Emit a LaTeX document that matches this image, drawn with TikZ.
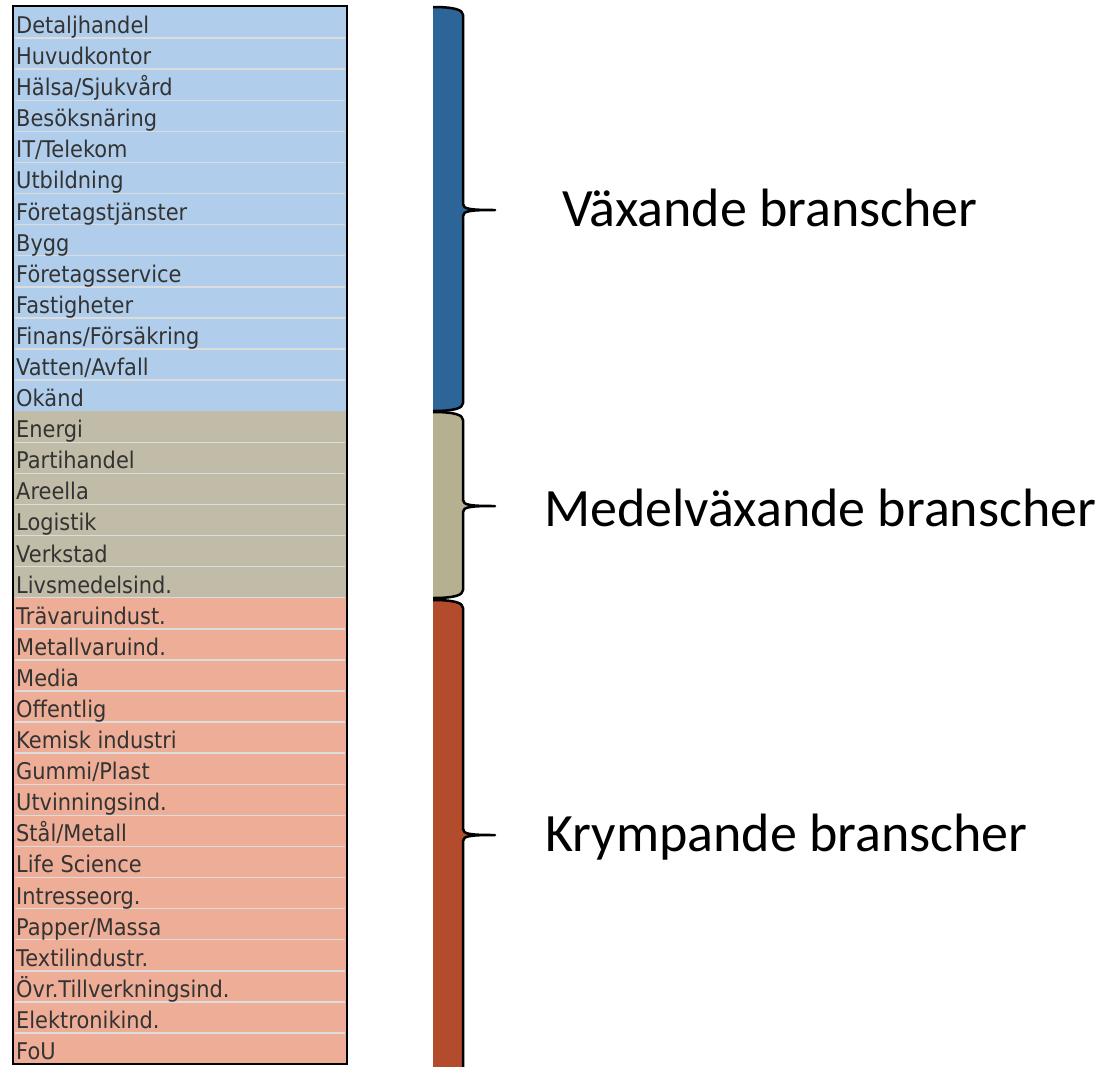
\documentclass[tikz,border=0pt]{standalone}
\usepackage{fontspec}
\setmainfont{Carlito}
\newfontfamily\rowfont[FakeStretch=0.91]{DejaVu Sans}

\definecolor{vaxrow}{HTML}{B0CEEB}
\definecolor{medrow}{HTML}{C0BCA7}
\definecolor{kryrow}{HTML}{EDAD96}
\definecolor{vaxbar}{HTML}{2D6599}
\definecolor{medbar}{HTML}{B5B08F}
\definecolor{krybar}{HTML}{B34B2D}
\definecolor{rowtxt}{HTML}{333333}
\definecolor{rowsep}{HTML}{DCDCDC}

\tikzset{
  rowtext/.style={anchor=base west, inner sep=0pt, text=rowtxt,
    font=\rowfont\fontsize{23}{26}\selectfont},
  grouptext/.style={anchor=base west, inner sep=0pt,
    font=\fontsize{54}{62}\selectfont},
  bracestroke/.style={line width=2.5pt, line join=round},
}

\begin{document}
\begin{tikzpicture}[x=1pt,y=-1pt]
\useasboundingbox (0,0) rectangle (1097,1066);
\newcommand{\Rowh}{31.09}; % row height
\newcommand{\Tabtop}{7}; % top of table
\newcommand{\Tabl}{13}; % left edge of table
\newcommand{\Tabr}{347}; % right edge of table

% brace bar: top, bottom, tip, colour
\newcommand{\bracebar}[4]{%
  \fill[#4] (433,#1) .. controls (455,#1) and (463,{#1+3}) .. (463,{#1+8})
    -- (463,{#3-6}) .. controls (463,{#3-1}) and (470,#3) .. (495,#3)
    .. controls (470,#3) and (463,{#3+1}) .. (463,{#3+6})
    -- (463,{#2-8}) .. controls (463,{#2-3}) and (455,#2) .. (433,#2) -- cycle;
  \draw[bracestroke] (433,#1) .. controls (455,#1) and (463,{#1+3}) .. (463,{#1+8})
    -- (463,{#3-6}) .. controls (463,{#3-1}) and (470,#3) .. (495,#3)
    .. controls (470,#3) and (463,{#3+1}) .. (463,{#3+6})
    -- (463,{#2-8}) .. controls (463,{#2-3}) and (455,#2) .. (433,#2);
}

% table background
\fill[vaxrow] (\Tabl,\Tabtop) rectangle (\Tabr,{\Tabtop+13*\Rowh});
\fill[medrow] (\Tabl,{\Tabtop+13*\Rowh}) rectangle (\Tabr,{\Tabtop+19*\Rowh});
\fill[kryrow] (\Tabl,{\Tabtop+19*\Rowh}) rectangle (\Tabr,{\Tabtop+34*\Rowh});

% row separators
\foreach \i in {1,...,33} {
  \ifnum\i=13 \else
    \draw[rowsep, line width=1.5pt] (15,{\Tabtop+\i*\Rowh}) -- (345,{\Tabtop+\i*\Rowh});
  \fi
}

% row labels
\foreach \lbl [count=\i from 0] in {Detaljhandel, Huvudkontor, Hälsa/Sjukvård,
  Besöksnäring, IT/Telekom, Utbildning, Företagstjänster, Bygg, Företagsservice,
  Fastigheter, Finans/Försäkring, Vatten/Avfall, Okänd,
  Energi, Partihandel, Areella, Logistik, Verkstad, Livsmedelsind.,
  Trävaruindust., Metallvaruind., Media, Offentlig, Kemisk industri, Gummi/Plast,
  Utvinningsind., Stål/Metall, Life Science, Intresseorg., Papper/Massa,
  Textilindustr., Övr.Tillverkningsind., Elektronikind., FoU}
  \node[rowtext] (row\i) at (16,{\Tabtop+\i*\Rowh+26.5}) {\lbl};

\draw[line width=2.5pt] (\Tabl,6) rectangle (\Tabr,1064);

% brace bars
\bracebar{7}{411}{210}{vaxbar}
\bracebar{412}{598}{506}{medbar}
\bracebar{600}{1090}{835}{krybar}

% group labels
\node[grouptext] (vax) at (562,226) {Växande branscher};
\node[grouptext] (med) at (544,526) {Medelväxande branscher};
\node[grouptext] (kry) at (545,851) {Krympande branscher};
\end{tikzpicture}
\end{document}
